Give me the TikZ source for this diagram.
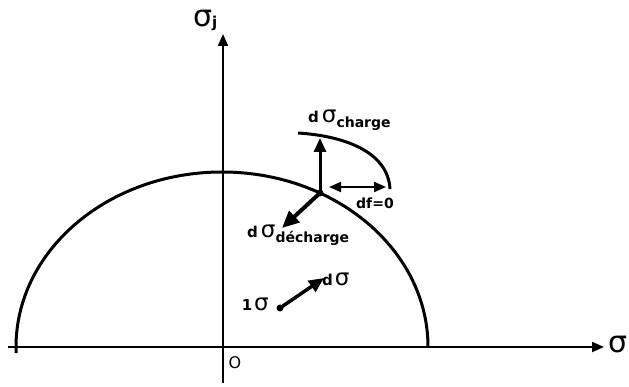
\documentclass[tikz,border=0pt]{standalone}
\usepackage{fontspec}
\setmainfont{DejaVu Sans}
\usetikzlibrary{arrows.meta}
\newcommand{\sig}[1]{{\fontsize{#1}{#1}\selectfont\mdseries σ}}
\newcommand{\sbx}[1]{\raisebox{-5pt}{\fontsize{14}{14}\selectfont\bfseries #1}}
\begin{document}
\begin{tikzpicture}[x=1pt,y=1pt,
  axis/.style={line width=2pt,-{Triangle[length=12pt,width=10pt]}},
  curve/.style={line width=3pt},
  vec/.style={line width=3pt,-{Triangle[length=14pt,width=12pt]}},
  bigvec/.style={line width=4pt,-{Triangle[length=17pt,width=15pt]}},
  lbl/.style={inner sep=0pt,font=\fontsize{15}{15}\selectfont\bfseries},
  dot/.style={circle,fill=black,inner sep=0pt,minimum size=7pt}]
\useasboundingbox (0,0) rectangle (629,-387);
% axes
\coordinate (xa) at (8,-347);
\coordinate (xb) at (604,-347);
\coordinate (ya) at (223,-383);
\coordinate (yb) at (223,-34);
\draw[axis] (xa) -- (xb);
\draw[axis] (ya) -- (yb);
\node[inner sep=0pt] (sx) at (618,-345) {\sig{30}};
\node[inner sep=0pt,anchor=south] (sy) at (203,-27) {\sig{30}};
\node[inner sep=0pt,anchor=north west] (sj) at (212,-16) {\fontsize{15}{15}\selectfont\bfseries j};
\node[inner sep=0pt] (o) at (235,-363) {\fontsize{16}{16}\selectfont O};
% yield ellipse
\coordinate (e1) at (16,-353);
\coordinate (e2) at (428,-348);
\draw[curve] (e1) -- (16,-347) arc[start angle=180,end angle=0,x radius=206pt,y radius=175pt];
% outer arc
\coordinate (oa) at (298,-133);
\coordinate (ob) at (390,-189);
\draw[curve] (oa) .. controls (345,-136) and (388,-152) .. (ob);
% junction
\node[dot] (J) at (320,-193) {};
\coordinate (Jc) at (320,-138);
\coordinate (Jd) at (282,-228);
\draw[vec] (J.center) -- (Jc);
\draw[bigvec] (J.center) -- (Jd);
\coordinate (d1) at (329,-187);
\coordinate (d2) at (386,-187);
\draw[line width=2pt,{Triangle[length=12pt,width=10pt]}-{Triangle[length=12pt,width=10pt]}] (d1) -- (d2);
\node[lbl,font=\fontsize{14}{14}\selectfont\bfseries] (df) at (375,-203) {df=0};
% labels
\node[lbl,anchor=base west] (lc) at (308,-123) {d\hspace{3pt}\sig{23}\sbx{charge}};
\node[lbl,anchor=base west] (ld) at (247,-238) {d\hspace{3pt}\sig{23}\sbx{décharge}};
% small vector
\node[dot] (P) at (280,-308) {};
\coordinate (Pt) at (324,-278);
\draw[line width=3.5pt,-{Triangle[length=15pt,width=13pt]}] (P.center) -- (Pt);
\node[lbl,anchor=base west] (ls) at (322,-286) {d\hspace{2pt}\sig{23}};
\node[lbl,anchor=base east] (l1) at (269,-311) {1\hspace{2pt}\sig{23}};
\end{tikzpicture}
\end{document}
